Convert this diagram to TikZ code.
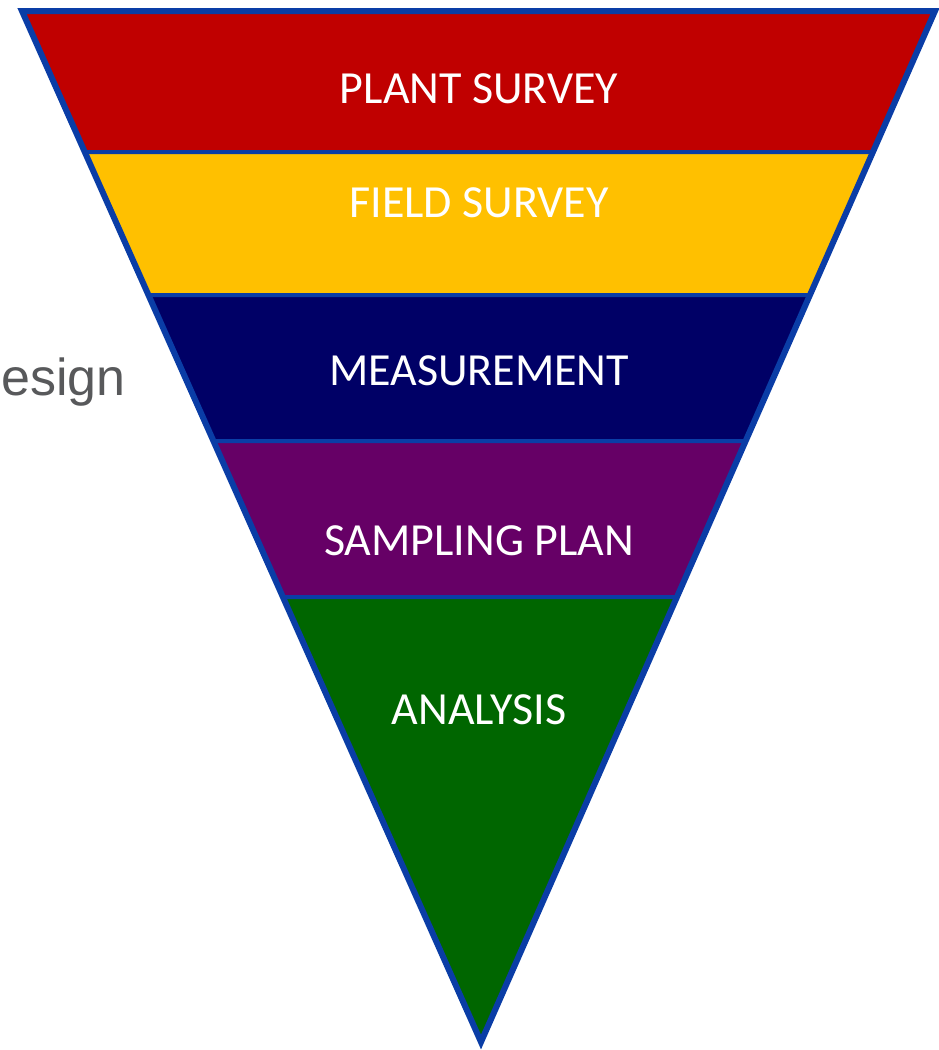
\documentclass[tikz,border=0pt]{standalone}
\usepackage{fontspec}
\setmainfont{Carlito}
\newfontfamily\sidefont{Liberation Sans}
\definecolor{rimblue}{HTML}{0A3DA6}
\definecolor{bandred}{HTML}{C00000}
\definecolor{bandyellow}{HTML}{FFC000}
\definecolor{bandnavy}{HTML}{000066}
\definecolor{bandpurple}{HTML}{660066}
\definecolor{bandgreen}{HTML}{006600}
\definecolor{sidegray}{HTML}{58595B}

\begin{document}
\begin{tikzpicture}[x=1pt, y=-1pt,
    nodes = {font=\fontsize{46}{54}\selectfont, text=white, inner sep=0pt}]
  \useasboundingbox (0,0) rectangle (939,1050);
  \coordinate (tl) at (22,11);
  \coordinate (tr) at (935,11);
  \coordinate (tip) at (481,1042);
  % edges of the bands
  \foreach \y [count=\i] in {11,152,295,441,597} {
    \coordinate (l\i) at (intersection of tl--tip and 0,\y--1,\y);
    \coordinate (r\i) at (intersection of tr--tip and 0,\y--1,\y);
  }
  \coordinate (l6) at (tip);
  \coordinate (r6) at (tip);
  \foreach \band [count=\i, evaluate=\i as \j using int(\i+1)] in
      {bandred,bandyellow,bandnavy,bandpurple,bandgreen} {
    \fill[\band] (l\i) -- (r\i) -- (r\j) -- (l\j) -- cycle;
  }
  \foreach \i in {2,...,5}
    \draw[rimblue, line width=4pt] (l\i) -- (r\i);
  \draw[rimblue, line width=6pt, line join=miter] (tl) -- (tr) -- (tip) -- cycle;
  % labels
  \node[anchor=base] (plant) at (479,103) {PLANT SURVEY};
  \node[anchor=base] (field) at (479,217) {FIELD SURVEY};
  \node[anchor=base] (measure) at (479,385) {MEASUREMENT};
  \node[anchor=base] (sampling) at (479,555) {SAMPLING PLAN};
  \node[anchor=base] (analysis) at (479,724) {ANALYSIS};
  \node[anchor=base west, text=sidegray,
    font=\sidefont\fontsize{52}{60}\selectfont] (design) at (1,395) {esign};
\end{tikzpicture}
\end{document}
